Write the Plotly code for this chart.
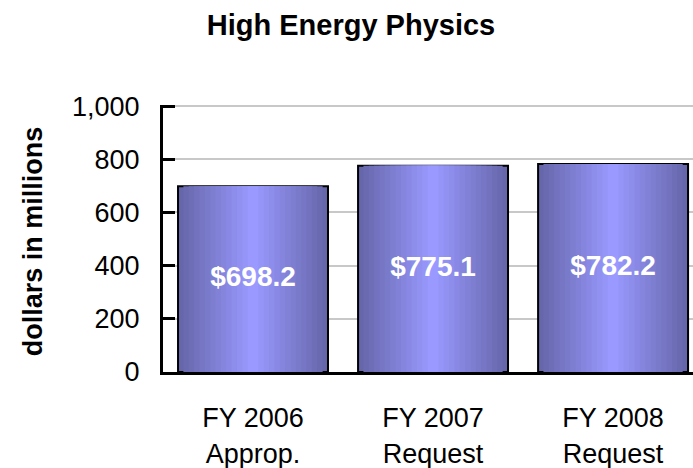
import plotly.graph_objects as go

categories = ["FY 2006<br>Approp.", "FY 2007<br>Request", "FY 2008<br>Request"]
values = [698.2, 775.1, 782.2]
labels = ["$698.2", "$775.1", "$782.2"]
y_ticks = [0, 200, 400, 600, 800, 1000]
y_tick_text = ["0", "200", "400", "600", "800", "1,000"]

FONT = "Liberation Sans, Arial, sans-serif"

def lerp(c1, c2, t):
    return "rgb(%d,%d,%d)" % tuple(round(a + (b - a) * t) for a, b in zip(c1, c2))

edge = (102, 102, 170)
center = (153, 153, 255)
BAR_W = 0.833
N = 14

fig = go.Figure()
for k in range(N):
    t = k / (N - 1)
    w = BAR_W * (1 - k / N)
    fig.add_trace(go.Bar(
        x=categories, y=values, width=w,
        marker=dict(color=lerp(edge, center, t),
                    line=dict(color="black", width=2 if k == 0 else 0)),
        hoverinfo="skip", showlegend=False,
    ))

fig.add_trace(go.Scatter(
    x=categories, y=[v / 2 for v in values], text=labels, mode="text",
    textfont=dict(family=FONT, size=28, color="white", weight="bold"),
    hoverinfo="skip", showlegend=False, cliponaxis=False,
))

fig.add_annotation(
    text="<b>dollars in millions</b>", textangle=-90,
    xref="paper", yref="paper", x=(33 - 163) / 530, y=0.49,
    xanchor="center", yanchor="middle", showarrow=False,
    font=dict(family=FONT, size=27, color="black"),
)

fig.update_layout(
    width=693, height=468,
    margin=dict(l=163, r=0, t=105, b=96),
    barmode="overlay",
    plot_bgcolor="white", paper_bgcolor="white",
    font=dict(family=FONT, size=27, color="black"),
    title=dict(text="<b>High Energy Physics</b>", x=351 / 693, xanchor="center",
               y=1 - 25 / 468, yanchor="middle",
               font=dict(family=FONT, size=29, color="black")),
    xaxis=dict(range=[-0.5, 2.444], showline=True, linecolor="black", linewidth=3,
               showgrid=False, ticks="", ticklabelstandoff=20, automargin=False,
               tickfont=dict(family=FONT, size=27)),
    yaxis=dict(range=[0, 1004], tickvals=y_ticks, ticktext=y_tick_text,
               showline=True, linecolor="black", linewidth=3,
               ticks="inside", ticklen=12, tickwidth=3, tickcolor="black",
               showgrid=True, gridcolor="#C8C8C8", gridwidth=2,
               zeroline=False, ticklabelstandoff=15, automargin=False,
               tickfont=dict(family=FONT, size=27)),
)

fig.write_html("out.html", config={"displayModeBar": False},
               post_script="document.body.style.margin='0';")
